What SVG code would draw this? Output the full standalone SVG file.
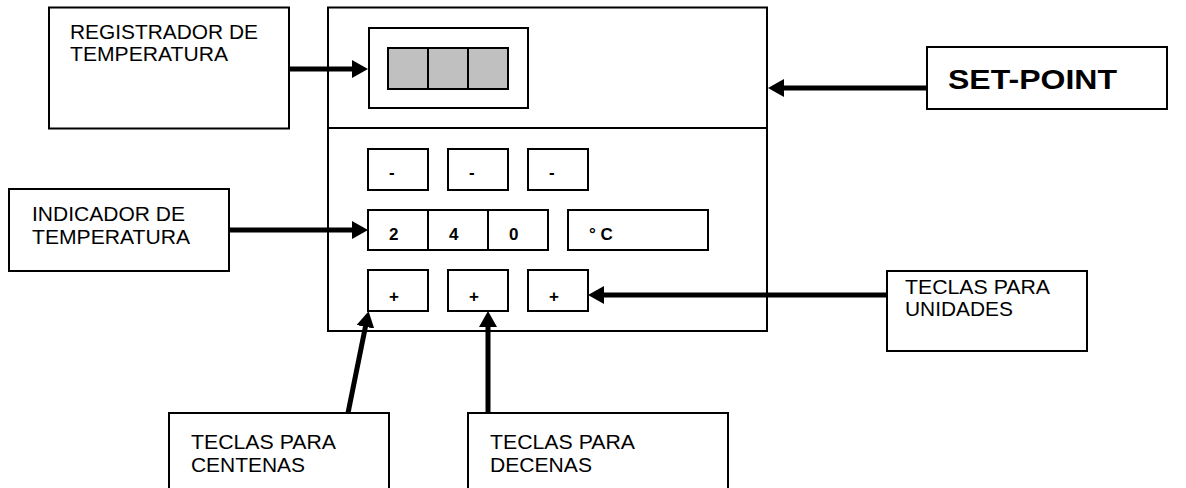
<svg xmlns="http://www.w3.org/2000/svg" width="1186" height="488" viewBox="0 0 1186 488">
  <style>
    .box { fill: #ffffff; stroke: #000000; stroke-width: 2; }
    .key { fill: #ffffff; stroke: #000000; stroke-width: 2; }
    .cell { fill: #c0c0c0; stroke: #000000; stroke-width: 2; }
    .lbl { font-family: "Liberation Sans", Arial, sans-serif; font-size: 20px; fill: #000000; }
    .kt { font-family: "Liberation Sans", Arial, sans-serif; font-size: 17px; font-weight: bold; fill: #000000; }
    .big { font-family: "Liberation Sans", Arial, sans-serif; font-size: 28px; font-weight: bold; fill: #000000; }
    .arrow { stroke: #000000; stroke-width: 5; fill: none; marker-end: url(#ah); }
  </style>
  <defs>
    <marker id="ah" markerUnits="userSpaceOnUse" markerWidth="16" markerHeight="18" refX="8" refY="9" orient="auto">
      <path d="M0,0 L16,9 L0,18 z" fill="#000000"/>
    </marker>
  </defs>
  <rect width="1186" height="488" fill="#ffffff"/>

  <g id="device">
    <rect class="box" x="328" y="7.5" width="439" height="323.5"/>
    <line x1="328" y1="128" x2="767" y2="128" stroke="#000" stroke-width="2"/>
    <rect class="box" x="369" y="28" width="159" height="80"/>
    <rect class="cell" x="388" y="48" width="40" height="41"/>
    <rect class="cell" x="428" y="48" width="40" height="41"/>
    <rect class="cell" x="468" y="48" width="40" height="41"/>
  </g>

  <g id="keys-minus">
    <rect class="key" x="368" y="149" width="60" height="41"/>
    <rect class="key" x="448" y="149" width="60" height="41"/>
    <rect class="key" x="528" y="149" width="60" height="41"/>
    <text class="kt" x="389" y="178">-</text>
    <text class="kt" x="469" y="178">-</text>
    <text class="kt" x="549" y="178">-</text>
  </g>

  <g id="display-digits">
    <rect class="key" x="368" y="210" width="60" height="40"/>
    <rect class="key" x="428" y="210" width="60" height="40"/>
    <rect class="key" x="488" y="210" width="60" height="40"/>
    <rect class="key" x="568" y="210" width="140" height="40"/>
    <text class="kt" x="389" y="240">2</text>
    <text class="kt" x="449" y="240">4</text>
    <text class="kt" x="509" y="240">0</text>
    <text class="kt" x="589" y="240">° C</text>
  </g>

  <g id="keys-plus">
    <rect class="key" x="368" y="270" width="60" height="41"/>
    <rect class="key" x="448" y="270" width="60" height="41"/>
    <rect class="key" x="528" y="270" width="60" height="41"/>
    <text class="kt" x="389" y="302">+</text>
    <text class="kt" x="469" y="302">+</text>
    <text class="kt" x="549" y="302">+</text>
  </g>

  <g id="registrador">
    <rect class="box" x="49" y="7.5" width="240" height="121"/>
    <text class="lbl" x="70" y="39" textLength="188" lengthAdjust="spacingAndGlyphs">REGISTRADOR DE</text>
    <text class="lbl" x="70" y="61" textLength="158" lengthAdjust="spacingAndGlyphs">TEMPERATURA</text>
  </g>

  <g id="setpoint">
    <rect class="box" x="927" y="47" width="240" height="62"/>
    <text class="big" x="948" y="89" textLength="169" lengthAdjust="spacingAndGlyphs">SET-POINT</text>
  </g>

  <g id="indicador">
    <rect class="box" x="9" y="189" width="220" height="82"/>
    <text class="lbl" x="32" y="221" textLength="153" lengthAdjust="spacingAndGlyphs">INDICADOR DE</text>
    <text class="lbl" x="32" y="244" textLength="158" lengthAdjust="spacingAndGlyphs">TEMPERATURA</text>
  </g>

  <g id="unidades">
    <rect class="box" x="887" y="271" width="200" height="80"/>
    <text class="lbl" x="905" y="294" textLength="145" lengthAdjust="spacingAndGlyphs">TECLAS PARA</text>
    <text class="lbl" x="905" y="316" textLength="108" lengthAdjust="spacingAndGlyphs">UNIDADES</text>
  </g>

  <g id="centenas">
    <rect class="box" x="169" y="413" width="220" height="90"/>
    <text class="lbl" x="191" y="449" textLength="145" lengthAdjust="spacingAndGlyphs">TECLAS PARA</text>
    <text class="lbl" x="191" y="472" textLength="114" lengthAdjust="spacingAndGlyphs">CENTENAS</text>
  </g>

  <g id="decenas">
    <rect class="box" x="468" y="413" width="260" height="90"/>
    <text class="lbl" x="490" y="449" textLength="145" lengthAdjust="spacingAndGlyphs">TECLAS PARA</text>
    <text class="lbl" x="490" y="472" textLength="102" lengthAdjust="spacingAndGlyphs">DECENAS</text>
  </g>

  <g id="connectors">
    <line class="arrow" x1="289" y1="69" x2="360" y2="69"/>
    <line class="arrow" x1="927" y1="88" x2="776" y2="88"/>
    <line class="arrow" x1="229" y1="230" x2="360" y2="230"/>
    <line class="arrow" x1="887" y1="295" x2="596" y2="295"/>
    <line class="arrow" x1="348" y1="413" x2="367" y2="319"/>
    <line class="arrow" x1="488" y1="413" x2="488" y2="319"/>
  </g>
</svg>
